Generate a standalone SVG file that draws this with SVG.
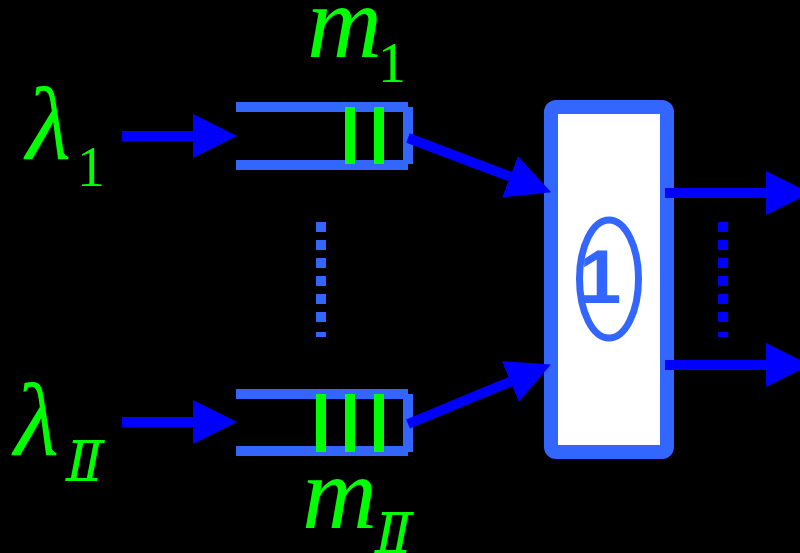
<svg xmlns="http://www.w3.org/2000/svg" width="800" height="553" viewBox="0 0 800 553">
<defs>
<style>
.q{stroke:#3366FF;stroke-width:10;fill:none}
.g{fill:#00FF00}
.ar{stroke:#0000FF;stroke-width:10;fill:none}
.lbl{font-family:"Liberation Serif","DejaVu Serif",serif;font-style:italic;fill:#00FF00}
.sub{font-family:"Liberation Serif","DejaVu Serif",serif;fill:#00FF00}
</style>
<marker id="ah" markerUnits="userSpaceOnUse" markerWidth="44" markerHeight="44" refX="0" refY="21.5" orient="auto" viewBox="0 0 43 43">
<path d="M0,0 L43,21.5 L0,43 Z" fill="#0000FF"/>
</marker>
</defs>
<rect width="800" height="553" fill="#000"/>

<g id="labels">
<text class="lbl" x="26" y="159" font-size="104">λ</text>
<text class="sub" x="77" y="186" font-size="56">1</text>
<text class="lbl" x="14" y="455" font-size="104">λ</text>
<text class="sub" x="66" y="481" font-size="56" font-style="italic">Ⅱ</text>
<text class="lbl" x="307" y="57" font-size="104">m</text>
<text class="sub" x="378" y="82" font-size="56">1</text>
<text class="lbl" x="302" y="528" font-size="104">m</text>
<text class="sub" x="375" y="553" font-size="56" font-style="italic">Ⅱ</text>
</g>

<g id="queue1">
<path class="q" d="M236,107 H408 M236,165 H408 M408,107 V164"/>
<rect class="g" x="345" y="107" width="10" height="57"/>
<rect class="g" x="374" y="107" width="10" height="57"/>
</g>

<g id="queue2">
<path class="q" d="M236,394 H408 M236,451 H408 M408,394 V452"/>
<rect class="g" x="316" y="394" width="10" height="58"/>
<rect class="g" x="345" y="394" width="10" height="58"/>
<rect class="g" x="374" y="394" width="10" height="58"/>
</g>

<g id="dots-left" fill="#3366FF">
<rect x="316" y="222" width="10" height="10"/>
<rect x="316" y="240" width="10" height="10"/>
<rect x="316" y="258" width="10" height="10"/>
<rect x="316" y="276" width="10" height="10"/>
<rect x="316" y="294" width="10" height="10"/>
<rect x="316" y="312" width="10" height="10"/>
<rect x="316" y="332" width="10" height="5"/>
</g>

<g id="server">
<rect x="551" y="107" width="116" height="345" rx="5" fill="#FFFFFF" stroke="#3366FF" stroke-width="14"/>
<ellipse cx="609" cy="279" rx="29.5" ry="59" fill="none" stroke="#3366FF" stroke-width="7"/>
<text x="579" y="303" font-family="Liberation Sans,Arial,sans-serif" font-weight="bold" font-size="76" fill="#3366FF">1</text>
</g>

<g id="dots-right" fill="#0000FF">
<rect x="718" y="222" width="10" height="10"/>
<rect x="718" y="240" width="10" height="10"/>
<rect x="718" y="258" width="10" height="10"/>
<rect x="718" y="276" width="10" height="10"/>
<rect x="718" y="294" width="10" height="10"/>
<rect x="718" y="312" width="10" height="10"/>
<rect x="718" y="332" width="10" height="5"/>
</g>

<g id="connectors">
<line class="ar" x1="122" y1="136" x2="193" y2="136" marker-end="url(#ah)"/>
<line class="ar" x1="122" y1="422" x2="193" y2="422" marker-end="url(#ah)"/>
<line class="ar" x1="408" y1="138" x2="510" y2="176.7" marker-end="url(#ah)"/>
<line class="ar" x1="408" y1="424" x2="510.3" y2="381.5" marker-end="url(#ah)"/>
<line class="ar" x1="665" y1="193" x2="766" y2="193" marker-end="url(#ah)"/>
<line class="ar" x1="665" y1="365" x2="766" y2="365" marker-end="url(#ah)"/>
</g>
</svg>
